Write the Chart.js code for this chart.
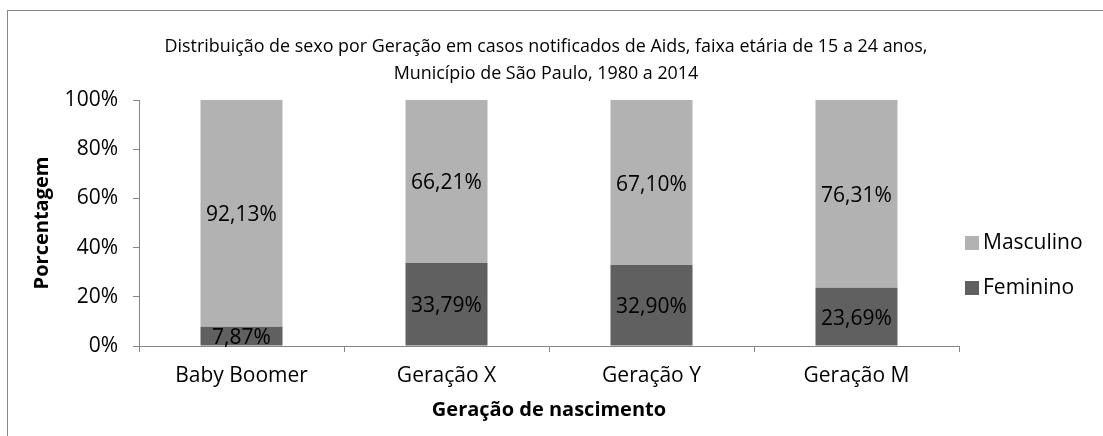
<!DOCTYPE html>
<html>
<head>
<meta charset="utf-8">
<script src="https://cdn.jsdelivr.net/npm/chart.js@4"></script>
<style>
  html, body { margin: 0; padding: 0; background: #fff; overflow: hidden; }
  #wrap { position: relative; width: 1103px; height: 436px; }
  #frame { position: absolute; left: 7px; top: 10px; width: 1200px; height: 600px; border: 1px solid #888; }
  canvas { position: absolute; left: 0; top: 0; }
</style>
</head>
<body>
<div id="wrap">
  <div id="frame"></div>
  <canvas id="my-chart" width="1103" height="436"></canvas>
</div>
<script>
const geracoes = ['Baby Boomer', 'Geração X', 'Geração Y', 'Geração M']
const feminino = [7.87, 33.79, 32.90, 23.69]
const masculino = [92.13, 66.21, 67.10, 76.31]
const yTicks = [0, 20, 40, 60, 80, 100]
const titulo = ['Distribuição de sexo por Geração em casos notificados de Aids, faixa etária de 15 a 24 anos,', 'Município de São Paulo, 1980 a 2014']

const FONT = "'Open Sans', 'Noto Sans', sans-serif"
const corMasc = '#b2b2b2'
const corFem = '#606060'

// labels inside the bars (pt-BR decimal comma)
const barLabels = {
  id: 'barLabels',
  afterDatasetsDraw(chart) {
    const ctx = chart.ctx
    ctx.save()
    ctx.font = '21px ' + FONT
    ctx.fillStyle = '#000'
    ctx.textAlign = 'center'
    ctx.textBaseline = 'middle'
    chart.data.datasets.forEach((ds, i) => {
      chart.getDatasetMeta(i).data.forEach((bar, j) => {
        const txt = ds.data[j].toFixed(2).replace('.', ',') + '%'
        ctx.fillText(txt, bar.x, (bar.y + bar.base) / 2 + 2)
      })
    })
    ctx.restore()
  }
}

// title centred on the whole frame + legend on the right (Masculino on top)
const extras = {
  id: 'extras',
  afterDraw(chart) {
    const ctx = chart.ctx
    ctx.save()
    ctx.fillStyle = '#000'
    ctx.textAlign = 'center'
    ctx.textBaseline = 'middle'
    ctx.font = '17.9px ' + FONT
    titulo.forEach((t, k) => ctx.fillText(t, 546, 47 + k * 27))

    const items = [['Masculino', corMasc], ['Feminino', corFem]]
    ctx.font = '21px ' + FONT
    ctx.textAlign = 'left'
    items.forEach((it, k) => {
      const y = 243 + k * 45
      ctx.fillStyle = it[1]
      ctx.fillRect(965, y - 7, 14, 14)
      ctx.fillStyle = '#000'
      ctx.fillText(it[0], 983, y)
    })
    ctx.restore()
  }
}

const chart = document.getElementById('my-chart')
var myChart = new Chart(chart, {
  type: 'bar',
  data: {
    labels: geracoes,
    datasets: [{
      label: 'Feminino',
      data: feminino,
      backgroundColor: corFem,
      categoryPercentage: 0.4,
      barPercentage: 1
    }, {
      label: 'Masculino',
      data: masculino,
      backgroundColor: corMasc,
      categoryPercentage: 0.4,
      barPercentage: 1
    }]
  },
  options: {
    responsive: false,
    animation: false,
    layout: { padding: { left: 30, right: 144, top: 100, bottom: 14 } },
    scales: {
      x: {
        stacked: true,
        border: { color: '#868686', width: 1 },
        grid: { offset: true, drawOnChartArea: false, drawTicks: true, tickLength: 6, color: '#868686' },
        ticks: { color: '#000', font: { family: FONT, size: 21 }, padding: 11 },
        title: { display: true, text: 'Geração de nascimento', color: '#000', font: { family: FONT, size: 20, weight: 'bold' }, padding: { top: 4, bottom: 0 } },
        afterFit(s) { s.height = 76 }
      },
      y: {
        stacked: true,
        min: 0,
        max: 100,
        afterBuildTicks(s) { s.ticks = yTicks.map(v => ({ value: v })) },
        border: { color: '#868686', width: 1 },
        grid: { drawOnChartArea: false, drawTicks: true, tickLength: 6, color: '#868686' },
        ticks: { color: '#000', font: { family: FONT, size: 21 }, padding: 15, callback: v => v + '%' },
        title: { display: true, text: 'Porcentagem', color: '#000', font: { family: FONT, size: 20, weight: 'bold' }, padding: { top: 0, bottom: 0 } },
        afterFit(s) { s.width = 109 }
      }
    },
    plugins: {
      legend: { display: false },
      tooltip: { enabled: false },
      title: { display: false }
    }
  },
  plugins: [barLabels, extras]
})
</script>
</body>
</html>
